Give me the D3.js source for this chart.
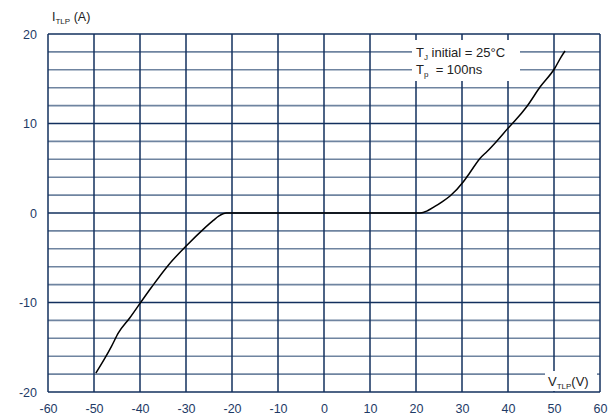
<!DOCTYPE html>
<html><head><meta charset="utf-8">
<script src="https://cdn.jsdelivr.net/npm/d3@7"></script>
<style>body{margin:0;background:#fff}text{font-family:Arial,"Liberation Sans",sans-serif}</style>
</head><body><svg id="c" width="616" height="417"></svg>
<script>
const xTicks = [-60,-50,-40,-30,-20,-10,0,10,20,30,40,50,60];
const yTicks = [-20,-10,0,10,20];
const yGrid = [-20,-18,-16,-14,-12,-10,-8,-6,-4,-2,0,2,4,6,8,10,12,14,16,18,20];
const curveV = [-49.6,-47.6,-46.2,-44.7,-42.2,-40,-37.5,-33.8,-29.8,-26.2,-24,-22.9,-21.2,-15,-5,5,15,20.9,22.5,24,25.5,27.4,30.3,31.7,33.9,35.5,37.5,40.4,41.5,44.1,47,50.2,51.5,52.4];
const curveI = [-17.9,-16.2,-14.9,-13.4,-11.7,-10.1,-8.3,-5.8,-3.6,-1.8,-0.8,-0.35,0,0,0,0,0,0,0.25,0.7,1.2,1.9,3.5,4.5,6.1,6.9,8.0,9.7,10.3,11.9,14.1,16.2,17.4,18.1];

const svg = d3.select("#c");
const x = d3.scaleLinear().domain([-60,60]).range([48,600]);
const y = d3.scaleLinear().domain([-20,20]).range([392,34]);
const navy = "#13305e", grey = "#6f84a0";

// horizontal grid
svg.append("g").selectAll("line").data(yGrid).join("line")
  .attr("x1",x(-60)).attr("x2",x(60)).attr("y1",d=>y(d)).attr("y2",d=>y(d))
  .attr("stroke",d=>(d%10===0)?navy:grey).attr("stroke-width",1.6);
// vertical grid
svg.append("g").selectAll("line").data(xTicks).join("line")
  .attr("x1",d=>x(d)).attr("x2",d=>x(d)).attr("y1",y(20)).attr("y2",y(-20))
  .attr("stroke",navy).attr("stroke-width",1.5);

// axes labels
const fmt = d=>String(d);
const xa = d3.axisBottom(x).tickValues(xTicks).tickSize(0).tickPadding(12).tickFormat(fmt);
svg.append("g").attr("transform",`translate(0,${y(-20)})`).call(xa)
  .call(g=>g.select(".domain").remove())
  .selectAll("text").attr("fill","#1e3a66").attr("font-size",12.5).attr("font-family","Arial,'Liberation Sans',sans-serif");
const ya = d3.axisLeft(y).tickValues(yTicks).tickSize(0).tickPadding(11).tickFormat(fmt);
svg.append("g").attr("transform",`translate(${x(-60)},0)`).call(ya)
  .call(g=>g.select(".domain").remove())
  .selectAll("text").attr("fill","#1e3a66").attr("font-size",12.5).attr("font-family","Arial,'Liberation Sans',sans-serif");

// legend box
svg.append("rect").attr("x",412).attr("y",40).attr("width",108).attr("height",41).attr("fill","#fff");
const lg = svg.append("text").attr("x",416).attr("y",57).attr("font-size",13).attr("fill","#222");
lg.append("tspan").text("T");
lg.append("tspan").text("J").attr("font-size",8).attr("dy",3);
lg.append("tspan").text(" initial = 25°C").attr("dy",-3);
const lg2 = svg.append("text").attr("x",416).attr("y",74).attr("font-size",13).attr("fill","#222");
lg2.append("tspan").text("T");
lg2.append("tspan").text("p").attr("font-size",8).attr("dy",3);
lg2.append("tspan").text("\u00a0 = 100ns").attr("dy",-3);

// x label
svg.append("rect").attr("x",545).attr("y",371).attr("width",52).attr("height",20).attr("fill","#fff");
const xl = svg.append("text").attr("x",548).attr("y",386).attr("font-size",13).attr("fill","#222");
xl.append("tspan").text("V");
xl.append("tspan").text("TLP").attr("font-size",8).attr("dy",3);
xl.append("tspan").text("(V)").attr("dy",-3);

// y label
const yl = svg.append("text").attr("x",52).attr("y",21).attr("font-size",12.5).attr("fill","#222");
yl.append("tspan").text("I");
yl.append("tspan").text("TLP").attr("font-size",8).attr("dy",3);
yl.append("tspan").text(" (A)").attr("dy",-3);

// curve
const pts = curveV.map((v,i)=>[v,curveI[i]]);
svg.append("path").datum(pts)
  .attr("d",d3.line().x(d=>x(d[0])).y(d=>y(d[1])).curve(d3.curveMonotoneX))
  .attr("fill","none").attr("stroke","#000").attr("stroke-width",1.5);
</script></body></html>
